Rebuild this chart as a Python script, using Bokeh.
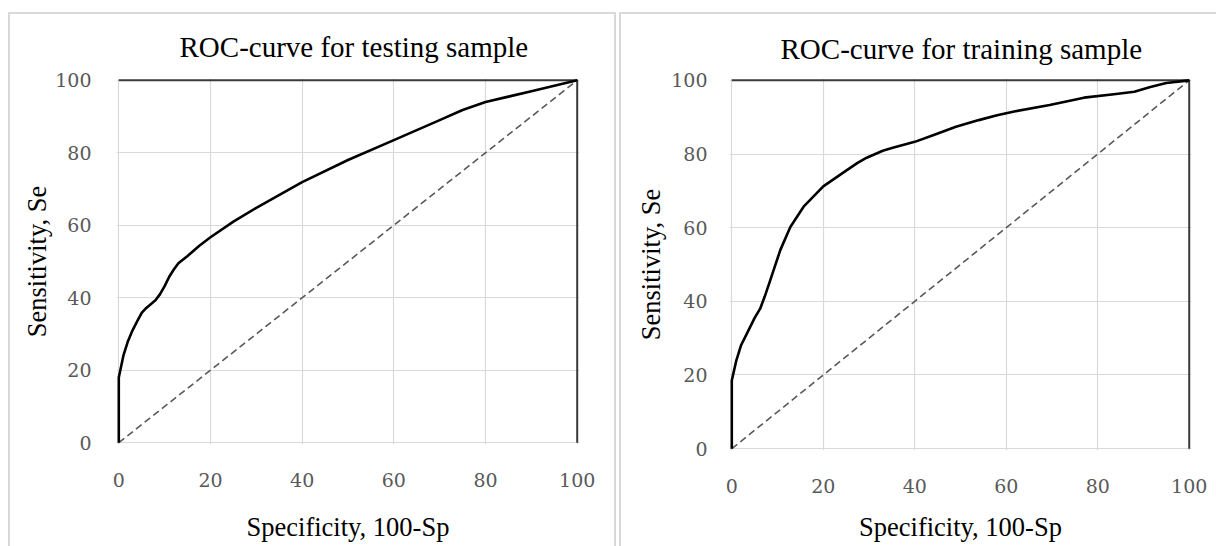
from bokeh.plotting import figure
from bokeh.models import Range1d, FixedTicker
from bokeh.layouts import row, column
from bokeh.embed import file_html
from bokeh.resources import INLINE

# ---------------- data ----------------
ticks = [0, 20, 40, 60, 80, 100]

test_x = [0, 0, 1, 2, 3, 4, 5, 6, 8, 9, 10, 11, 12, 13, 15, 17.5, 20, 25, 30, 40, 50, 60, 70, 75, 80, 85, 90, 95, 100]
test_y = [0, 18, 24, 28, 31, 33.5, 35.8, 37.2, 39.3, 41, 43.2, 45.8, 47.8, 49.5, 51.5, 54.3, 56.7, 61, 64.8, 71.9, 78, 83.5, 89, 91.8, 94, 95.5, 97, 98.5, 100]

train_x = [0, 0, 1, 2, 3, 4, 5, 6.2, 7.2, 8.4, 10.6, 12.8, 15.7, 20, 25, 27.5, 29.5, 33, 35, 40, 44, 49, 54, 58, 62, 69.5, 77, 84, 88, 91.5, 95, 100]
train_y = [0, 18.5, 24, 28, 30.5, 33, 35.5, 38, 41.3, 45.7, 53.9, 60.2, 65.7, 71.2, 75.5, 77.6, 79.0, 80.9, 81.6, 83.3, 85.1, 87.4, 89.2, 90.5, 91.6, 93.3, 95.3, 96.3, 96.9, 98.2, 99.3, 100]

diag_x = [0, 100]
diag_y = [0, 100]
box_x = [0, 100, 100]
box_y = [100, 100, 0]

titles = ["ROC-curve for testing sample", "ROC-curve for training sample"]
x_title = "Specificity, 100-Sp"
y_title = "Sensitivity, Se"

SERIF = "Liberation Serif"
TICKFONT = "DejaVu Serif"


def make_panel(cx, cy, title, width, height, mb, title_offset, title_standoff,
               xlab_standoff, ylab_standoff, xtitle_standoff, ytitle_standoff, styles):
    p = figure(width=width, height=height, output_backend="svg", toolbar_location=None,
               x_range=Range1d(-0.5, 100.5), y_range=Range1d(-0.5, 100.5),
               min_border_left=mb[0], min_border_right=mb[1],
               min_border_top=mb[2], min_border_bottom=mb[3])
    p.border_fill_color = None
    p.background_fill_color = "white"
    p.outline_line_color = None
    p.styles = styles

    p.title.text = title
    p.title.align = "left"
    p.title.text_font = SERIF
    p.title.text_font_size = "29px"
    p.title.text_font_style = "normal"
    p.title.text_color = "#000000"
    p.title.offset = title_offset
    p.title.standoff = title_standoff

    for ax in (p.xaxis[0], p.yaxis[0]):
        ax.ticker = FixedTicker(ticks=ticks)
        ax.axis_line_color = None
        ax.major_tick_line_color = None
        ax.minor_tick_line_color = None
        ax.major_label_text_font = TICKFONT
        ax.major_label_text_font_size = "19px"
        ax.major_label_text_color = "#595959"
        ax.axis_label_text_font = SERIF
        ax.axis_label_text_font_size = "26.5px"
        ax.axis_label_text_font_style = "normal"
        ax.axis_label_text_color = "#000000"
    p.xaxis[0].major_label_standoff = xlab_standoff
    p.yaxis[0].major_label_standoff = ylab_standoff
    p.xaxis[0].axis_label = x_title
    p.yaxis[0].axis_label = y_title
    p.xaxis[0].axis_label_standoff = xtitle_standoff
    p.yaxis[0].axis_label_standoff = ytitle_standoff

    for g in (p.xgrid[0], p.ygrid[0]):
        g.ticker = FixedTicker(ticks=ticks)
        g.grid_line_color = "#d9d9d9"
        g.grid_line_width = 1.2

    p.line(diag_x, diag_y, line_color="#595959", line_width=1.6, line_dash="7 4")
    p.line(box_x, box_y, line_color="#3a3a3a", line_width=2)
    p.line(cx, cy, line_color="#000000", line_width=2.6, line_join="round")
    return p


p1 = make_panel(test_x, test_y, titles[0], 608, 534, (108, 37, 66, 102),
                63, 32, 22, 19, 22, 0,
                {"box-shadow": "inset 2px 2px 0 0 #d9d9d9, inset -2px 0 0 0 #d9d9d9"})
p1.margin = (12, 0, 0, 8)

p2 = make_panel(train_x, train_y, titles[1], 597, 534, (110, 25, 66, 96),
                51, 27, 22, 16, 16, 2,
                {"box-shadow": "inset 2px 2px 0 0 #d9d9d9"})
p2.margin = (12, 0, 0, 3)

layout = row(column(p1), column(p2))

open("out.html", "w").write(file_html(layout, INLINE))
